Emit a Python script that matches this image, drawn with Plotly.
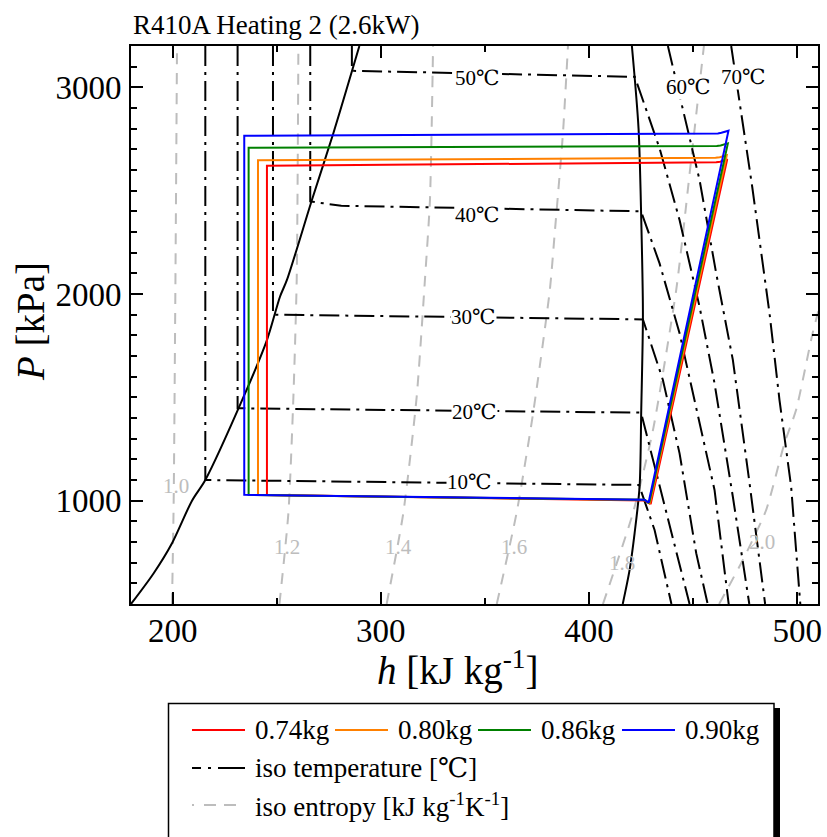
import plotly.graph_objects as go

FONT = "Liberation Serif, Times New Roman, DejaVu Serif, serif"

# ---- saturation dome (h in kJ/kg, P in kPa) ----
bubble_h = [180.0, 190.9, 199.7, 209.3, 215.7, 234.1, 245.3, 251.6, 254.9, 266.9, 277.2, 289.7]
bubble_p = [500, 649, 794, 1000, 1100, 1503, 1777, 1988, 2068, 2455, 2778, 3200]
dew_h = [416.2, 419.5, 421.9, 424.3, 425.1, 425.9, 425.1, 423.8, 420.6]
dew_p = [500, 665, 842, 1068, 1440, 1900, 2360, 2800, 3200]

# ---- isotherms ----
iso_t = [10, 20, 30, 40, 50, 60, 70]
iso_t_h = [
    [215.7, 215.7, 424.0, 431.5, 439.6],
    [231.2, 231.2, 425.0, 448.3],
    [248.2, 248.2, 425.9, 435.5, 443.5, 451.5, 457.0],
    [266.1, 266.1, 272.4, 281.0, 425.0, 433.9, 443.5, 451.5, 460.3, 467.1],
    [286.1, 286.1, 422.0, 433.9, 443.5, 453.1, 460.3, 469.1, 477.0],
    [437.9, 444.3, 453.1, 461.1, 469.1, 477.1, 484.6],
    [468.3, 472.3, 478.4, 486.7, 491.5, 497.1, 501.5],
]
iso_t_p = [
    [3200, 1100, 1076, 858, 500],
    [3200, 1447, 1426, 500],
    [3200, 1900, 1877, 1584, 1229, 746, 500],
    [3200, 2448, 2439, 2427, 2400, 2148, 1810, 1455, 1052, 500],
    [3200, 3080, 3051, 2705, 2358, 1939, 1568, 1019, 500],
    [3200, 2923, 2552, 2100, 1681, 1086, 500],
    [3200, 2930, 2519, 1908, 1487, 1068, 500],
]
iso_t_label_h = [342.8, 345.0, 344.7, 346.4, 346.6, 447.7, 474.4]
iso_t_label_p = [1092, 1431, 1887, 2382, 3045, 3003, 3048]

# ---- isentropes (kJ/kg/K) ----
iso_s = [1.0, 1.2, 1.4, 1.6, 1.8, 2.0]
iso_s_h = [
    [199.7, 200.5, 201.3, 202.1],
    [251.3, 255.6, 258.0, 259.6, 260.4],
    [302.8, 310.8, 317.2, 321.2, 323.6, 325.1],
    [355.7, 365.2, 373.1, 381.2, 383.5, 387.5, 389.9],
    [406.7, 421.1, 430.7, 441.9, 445.9, 448.3, 455.2],
    [462.5, 473.9, 485.1, 493.9, 499.5, 507.4, 510.5],
]
iso_s_p = [
    [500, 1000, 2000, 3200],
    [500, 940, 1500, 2070, 3200],
    [500, 940, 1500, 2070, 2455, 3200],
    [500, 940, 1420, 2020, 2290, 2780, 3200],
    [500, 940, 1340, 2020, 2360, 2580, 3200],
    [500, 713, 955, 1278, 1440, 1810, 1930],
]
iso_s_label_h = [201.5, 255.0, 308.6, 364.1, 415.8, 483.3]
iso_s_label_p = [1072, 774, 774, 774, 697, 798]

# ---- refrigeration cycles for each charge amount ----
charges = ["0.74kg", "0.80kg", "0.86kg", "0.90kg"]
cycle_colors = ["#ff0000", "#ff8000", "#008000", "#0000ff"]
cycle_h = [
    [429.6, 466.4, 463.0, 461.1, 245.3, 245.3, 426.7, 429.6],
    [429.2, 466.2, 462.8, 460.8, 241.0, 241.0, 426.7, 429.2],
    [428.9, 466.7, 463.2, 461.4, 236.5, 236.5, 426.7, 428.9],
    [428.6, 467.0, 463.6, 461.9, 234.4, 234.4, 426.7, 428.6],
]
cycle_p = [
    [983, 2652, 2640, 2637, 2621, 1027, 1001, 983],
    [986, 2672, 2662, 2659, 2647, 1027, 1003, 986],
    [988, 2729, 2719, 2716, 2708, 1028, 1004, 988],
    [990, 2790, 2780, 2777, 2766, 1028, 1005, 990],
]

ISO_T_DASH = "20px,6px,3px,6px"
ISO_S_DASH = "11px,9px"
GRAY = "#bdbdbd"

fig = go.Figure()

for h, p in zip(iso_s_h, iso_s_p):
    fig.add_trace(go.Scatter(x=h, y=p, mode="lines", hoverinfo="skip",
                             line=dict(color=GRAY, width=2, dash=ISO_S_DASH, shape="spline", smoothing=0.6)))

for h, p in zip(iso_t_h, iso_t_p):
    fig.add_trace(go.Scatter(x=h, y=p, mode="lines", hoverinfo="skip",
                             line=dict(color="black", width=2, dash=ISO_T_DASH)))

fig.add_trace(go.Scatter(x=bubble_h, y=bubble_p, mode="lines",
                         line=dict(color="black", width=2, shape="spline", smoothing=0.8)))
fig.add_trace(go.Scatter(x=dew_h, y=dew_p, mode="lines",
                         line=dict(color="black", width=2, shape="spline", smoothing=0.8)))

for name, c, h, p in zip(charges, cycle_colors, cycle_h, cycle_p):
    fig.add_trace(go.Scatter(x=h, y=p, mode="lines", name=name, line=dict(color=c, width=2)))

annotations = []
for t, h, p in zip(iso_t, iso_t_label_h, iso_t_label_p):
    annotations.append(dict(x=h, y=p, xref="x", yref="y", text=f"{t}℃", showarrow=False,
                            font=dict(family=FONT, size=21, color="black"),
                            bgcolor="white", borderpad=0))
for s, h, p in zip(iso_s, iso_s_label_h, iso_s_label_p):
    annotations.append(dict(x=h, y=p, xref="x", yref="y", text=f"{s:.1f}", showarrow=False,
                            font=dict(family=FONT, size=21, color=GRAY)))

# figure-pixel helpers for the frame decorations
L, R, T, B = 131, 818, 46, 604
def px(xp):
    return (xp - L) / (R - L)
def py(yp):
    return (B - yp) / (B - T)

annotations += [
    dict(x=0, y=py(25), xref="paper", yref="paper", xanchor="left", yanchor="middle",
         text="R410A Heating 2 (2.6kW)", showarrow=False, font=dict(family=FONT, size=27)),
    dict(x=px(457.5), y=py(668), xref="paper", yref="paper", xanchor="center", yanchor="middle",
         text="<i>h</i> [kJ kg<sup>-1</sup>]", showarrow=False, font=dict(family=FONT, size=39)),
    dict(x=px(30), y=py(322), xref="paper", yref="paper", xanchor="center", yanchor="middle",
         text="<i>P</i> [kPa]", textangle=-90, showarrow=False, font=dict(family=FONT, size=39)),
]

# legend drawn as a framed box below the axes
shapes = [
    dict(type="rect", xref="paper", yref="paper", x0=px(174), x1=px(780), y0=py(708), y1=py(860),
         fillcolor="black", line=dict(width=0), layer="above"),
    dict(type="rect", xref="paper", yref="paper", x0=px(168.5), x1=px(774), y0=py(703.5), y1=py(860),
         fillcolor="white", line=dict(color="black", width=1.5), layer="above"),
]
row_y = [730, 768, 805]
sample_x = [192, 335, 478, 622]
for name, c, sx in zip(charges, cycle_colors, sample_x):
    shapes.append(dict(type="line", xref="paper", yref="paper", x0=px(sx), x1=px(sx + 53),
                       y0=py(row_y[0]), y1=py(row_y[0]), line=dict(color=c, width=2), layer="above"))
    annotations.append(dict(x=px(sx + 61), y=py(row_y[0]), xref="paper", yref="paper",
                            xanchor="left", yanchor="middle", text=name, showarrow=False,
                            font=dict(family=FONT, size=27)))
shapes.append(dict(type="line", xref="paper", yref="paper", x0=px(192), x1=px(245),
                   y0=py(row_y[1]), y1=py(row_y[1]),
                   line=dict(color="black", width=2, dash="9px,7px,3px,7px,40px,60px"), layer="above"))
annotations.append(dict(x=px(253), y=py(row_y[1]), xref="paper", yref="paper", xanchor="left",
                        yanchor="middle", text="iso temperature [℃]", showarrow=False,
                        font=dict(family=FONT, size=27)))
shapes.append(dict(type="line", xref="paper", yref="paper", x0=px(192), x1=px(245),
                   y0=py(row_y[2]), y1=py(row_y[2]),
                   line=dict(color=GRAY, width=2, dash="2px,10px,12px,8px,12px,60px"), layer="above"))
annotations.append(dict(x=px(253), y=py(row_y[2]), xref="paper", yref="paper", xanchor="left",
                        yanchor="middle", text="iso entropy [kJ kg<sup>-1</sup>K<sup>-1</sup>]",
                        showarrow=False, font=dict(family=FONT, size=27)))

axis_style = dict(
    showline=True, linecolor="black", linewidth=2, mirror="ticks",
    ticks="inside", ticklen=12, tickwidth=2, tickcolor="black",
    showgrid=False, zeroline=False, automargin=False,
    tickfont=dict(family=FONT, size=33, color="black"),
)

fig.update_layout(
    template="none",
    width=827, height=837,
    margin=dict(l=L, r=827 - R, t=T, b=837 - B),
    paper_bgcolor="white", plot_bgcolor="white",
    showlegend=False,
    font=dict(family=FONT, color="black"),
    xaxis=dict(range=[180, 510], tick0=0, dtick=100, ticklabelstandoff=-4,
               minor=dict(dtick=50, ticks="inside", ticklen=6, tickwidth=2, tickcolor="black", showgrid=False),
               **axis_style),
    yaxis=dict(range=[500, 3200], tick0=0, dtick=1000, ticklabelstandoff=1,
               minor=dict(dtick=100, ticks="inside", ticklen=6, tickwidth=2, tickcolor="black", showgrid=False),
               **axis_style),
    annotations=annotations,
    shapes=shapes,
)

fig.write_html("out.html")
